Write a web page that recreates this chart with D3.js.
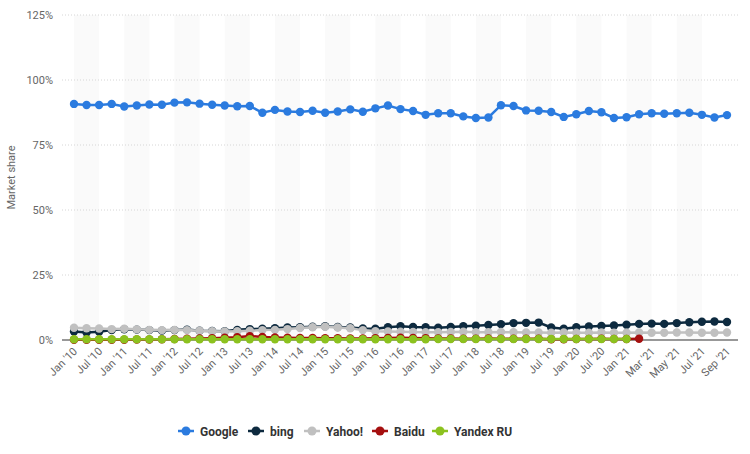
<!DOCTYPE html>
<html><head><meta charset="utf-8">
<script src="https://cdn.jsdelivr.net/npm/d3@7"></script>
<style>body{margin:0;background:#fff;font-family:Roboto,"Open Sans",sans-serif}</style>
</head><body><div id="chart"></div>
<script>
// categories: quarterly Jan '10 - Jan '21, then monthly Feb '21 - Sep '21
const months = ["Jan", "Apr", "Jul", "Oct"];
const categories = [];
for (let y = 10; y <= 20; y++) months.forEach(m => categories.push(m + " '" + y));
categories.push("Jan '21");
["Feb", "Mar", "Apr", "May", "Jun", "Jul", "Aug", "Sep"].forEach(m => categories.push(m + " '21"));

const google = [90.8,90.4,90.4,90.8,89.8,90.2,90.6,90.5,91.3,91.4,90.9,90.5,90.2,89.9,90.0,87.4,88.5,87.9,87.7,88.2,87.4,87.9,88.7,87.8,89.1,
  90.2,88.8,88.1,86.6,87.2,87.2,86.0,85.4,85.6,90.3,90.0,88.3,88.2,87.7,85.8,86.8,88.1,87.6,85.4,85.7,86.8,87.2,87.0,87.2,87.4,86.6,85.6,86.5];
const bing = [3.3,2.9,3.2,3.8,4.1,4.0,3.8,3.6,3.8,4.0,3.6,3.5,3.4,3.9,4.2,4.3,4.5,4.8,4.9,5.1,5.3,5.0,4.8,4.4,4.3,
  4.9,5.3,5.0,4.9,4.7,5.0,5.3,5.5,5.8,6.1,6.5,6.6,6.7,4.8,4.3,4.9,5.2,5.4,5.6,5.9,6.2,6.3,6.2,6.5,6.8,7.0,7.1,6.9];
const yahoo = [4.7,4.5,4.4,4.2,4.3,4.1,3.9,3.8,3.9,3.8,3.6,3.4,3.3,3.4,3.6,3.8,3.9,4.2,4.6,4.9,5.1,4.8,4.5,3.8,3.4,
  3.3,3.2,3.1,3.0,3.0,3.1,3.2,3.0,3.0,3.1,3.0,2.9,2.9,2.8,2.9,2.8,2.8,2.9,2.8,2.8,2.9,2.8,2.8,2.9,2.9,2.8,2.8,2.9];
const baidu = [0.1,0.1,0.1,0.1,0.1,0.2,0.2,0.3,0.4,0.5,0.6,0.7,0.9,1.1,1.5,1.2,1.0,0.9,0.8,0.8,0.7,0.7,0.6,0.6,0.7,
  0.8,0.9,0.8,0.7,0.6,0.6,0.5,0.5,0.6,0.5,0.5,0.5,0.5,0.3,0.3,0.4,0.4,0.5,0.4,0.4,0.5];
const yandex = [0.3,0.3,0.3,0.3,0.3,0.3,0.3,0.3,0.3,0.3,0.3,0.3,0.3,0.3,0.3,0.3,0.3,0.3,0.3,0.3,0.3,0.3,0.3,0.3,0.3,
  0.3,0.3,0.3,0.3,0.4,0.4,0.4,0.4,0.4,0.4,0.4,0.4,0.4,0.4,0.4,0.4,0.4,0.4,0.4,0.4];
const yTicks = [0, 25, 50, 75, 100, 125];

const series = [
  {name: "Google", color: "#2b7bdf", values: google},
  {name: "bing", color: "#0d2a3f", values: bing},
  {name: "Yahoo!", color: "#c0c0c0", values: yahoo},
  {name: "Baidu", color: "#a50f0f", values: baidu},
  {name: "Yandex RU", color: "#8cc21f", values: yandex},
];
const drawOrder = [1, 2, 3, 4, 0];

const width = 750, height = 454;
const margin = {top: 15, right: 12, bottom: 114, left: 62};

const svg = d3.select("#chart").append("svg").attr("width", width).attr("height", height);

const x = d3.scalePoint().domain(categories)
  .range([margin.left + 12, width - margin.right - 11]);
const y = d3.scaleLinear().domain([0, 125]).range([height - margin.bottom, margin.top]);
const step = x.step();

// alternating shaded bands
svg.append("g").selectAll("rect")
  .data(categories.filter((d, i) => i % 4 === 0 && i + 2 < categories.length))
  .join("rect")
  .attr("x", d => x(d)).attr("width", step * 2)
  .attr("y", margin.top).attr("height", y(0) - margin.top)
  .attr("fill", "#fafafa");

// grid
svg.append("g").selectAll("line").data(yTicks.filter(t => t > 0)).join("line")
  .attr("x1", margin.left).attr("x2", width - margin.right)
  .attr("y1", d => y(d)).attr("y2", d => y(d))
  .attr("stroke", "#d6d6d6").attr("stroke-dasharray", "1,2");

svg.append("g").selectAll("text").data(yTicks).join("text")
  .attr("x", margin.left - 9).attr("y", d => y(d) + 4)
  .attr("text-anchor", "end").attr("font-size", 11).attr("fill", "#666")
  .text(d => d + "%");

svg.append("text")
  .attr("transform", `translate(15,${(margin.top + y(0)) / 2}) rotate(-90)`)
  .attr("text-anchor", "middle").attr("font-size", 11).attr("fill", "#666")
  .text("Market share");

// x axis
svg.append("line").attr("x1", margin.left).attr("x2", width - margin.right)
  .attr("y1", y(0)).attr("y2", y(0)).attr("stroke", "#333");

svg.append("g").selectAll("text")
  .data(categories.filter((d, i) => i % 2 === 0)).join("text")
  .attr("transform", d => `translate(${x(d) + 4},${y(0) + 12}) rotate(-45)`)
  .attr("text-anchor", "end").attr("font-size", 11).attr("fill", "#666")
  .text(d => d);

// series
const line = d3.line().x((d, i) => x(categories[i])).y(d => y(d));
drawOrder.forEach(k => {
  const s = series[k];
  const g = svg.append("g");
  g.append("path").attr("d", line(s.values)).attr("fill", "none")
    .attr("stroke", s.color).attr("stroke-width", 2.5);
  g.selectAll("circle").data(s.values).join("circle")
    .attr("cx", (d, i) => x(categories[i])).attr("cy", d => y(d))
    .attr("r", 4.2).attr("fill", s.color);
});

// legend
const legendW = [70, 56, 68, 60, 86];
let lx = 178;
series.forEach((s, i) => {
  const g = svg.append("g").attr("transform", `translate(${lx},431)`);
  g.append("line").attr("x1", 0).attr("x2", 16).attr("stroke", s.color).attr("stroke-width", 2.5);
  g.append("circle").attr("cx", 8).attr("r", 4.5).attr("fill", s.color);
  g.append("text").attr("x", 22).attr("y", 4.5).attr("font-size", 12)
    .attr("font-weight", "bold").attr("fill", "#333").text(s.name);
  lx += legendW[i];
});
</script></body></html>
